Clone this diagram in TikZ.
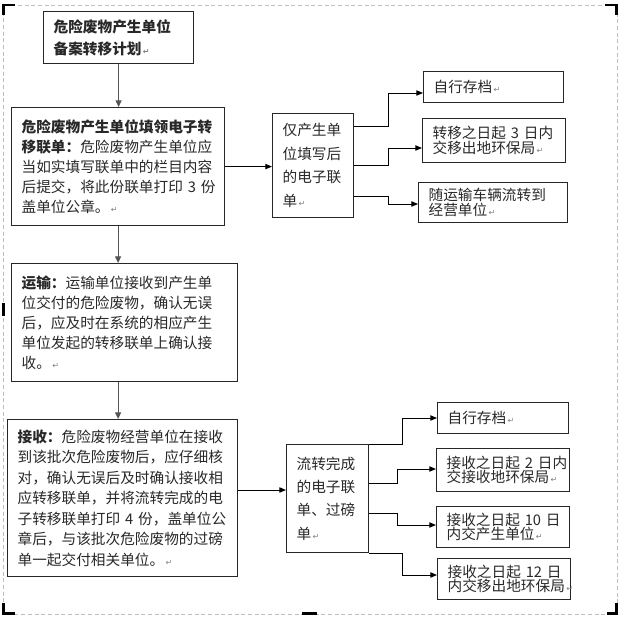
\documentclass[tikz,border=0pt]{standalone}
\usepackage{fontspec}
\setmainfont{Noto Sans CJK SC}
\newfontfamily\symfont{DejaVu Sans}
\usetikzlibrary{arrows.meta}
\definecolor{framegray}{RGB}{190,190,190}
\definecolor{linegray}{RGB}{85,85,85}
\definecolor{inkgray}{RGB}{40,40,40}
\newcommand{\retmark}{{\symfont\fontsize{6pt}{6pt}\selectfont\color{gray}\,↵}}

\begin{document}
\begin{tikzpicture}[
  x=0.75pt, y=-0.75pt,
  box/.style={rectangle, draw=black!85, line width=0.9pt, anchor=north west,
              align=left, inner xsep=7.5pt, inner ysep=0pt, text=inkgray,
              font=\fontsize{11pt}{15pt}\selectfont},
  sidebox/.style={box, font=\fontsize{11pt}{17.6pt}\selectfont},
  notebox/.style={box, font=\fontsize{11pt}{10.8pt}\selectfont},
  fwd/.style={-{Triangle[length=5pt,width=4.5pt]}, line width=0.9pt, linegray},
  branch/.style={-{Triangle[length=5pt,width=4pt]}, line width=0.7pt, black}
]
  \useasboundingbox (0,0) rectangle (623,617);

  % page frame
  \draw[framegray, dash pattern=on 3pt off 2pt, line width=0.6pt] (3.5,5) rectangle (617,614);
  \draw[black, line width=2.2pt] (3.5,15) -- (3.5,5) -- (15,5);
  \draw[black, line width=2.2pt] (605,5) -- (616.5,5) -- (616.5,15);
  \draw[black, line width=2.2pt] (616.5,603) -- (616.5,613.5) -- (607,613.5);
  \draw[black, line width=2.2pt] (3.5,603) -- (3.5,613.5) -- (15,613.5);
  \draw[black, line width=2.2pt] (3.5,303) -- (3.5,316);
  \draw[black, line width=2.2pt] (302,613.5) -- (317,613.5);

  % main column
  \node[box, text width=97.5pt, minimum height=39pt,
        font=\fontsize{11pt}{16.5pt}\selectfont\bfseries] (plan) at (43,11)
        {危险废物产生单位\\备案转移计划\retmark};
  \node[box, text width=144.75pt, minimum height=88.5pt] (fill) at (11,107)
        {\textbf{危险废物产生单位填领电子转}\\\textbf{移联单：}危险废物产生单位应\\当如实填写联单中的栏目内容\\后提交，将此份联单打印~3~份\\盖单位公章。\retmark};
  \node[box, text width=154.5pt, minimum height=88.5pt] (ship) at (11,263)
        {\textbf{运输：}运输单位接收到产生单\\位交付的危险废物，确认无误\\后，应及时在系统的相应产生\\单位发起的转移联单上确认接\\收。\retmark};
  \node[box, text width=157.5pt, minimum height=117.75pt,
        font=\fontsize{11pt}{15.4pt}\selectfont] (recv) at (7,419)
        {\textbf{接收：}危险废物经营单位在接收\\到该批次危险废物后，应仔细核\\对，确认无误后及时确认接收相\\应转移联单，并将流转完成的电\\子转移联单打印~4~份，盖单位公\\章后，与该批次危险废物的过磅\\单一起交付相关单位。\retmark};

  % upper branch
  \node[sidebox, text width=45.75pt, minimum height=78pt] (form) at (272,113)
        {仅产生单\\位填写后\\的电子联\\单\retmark};
  \node[notebox, text width=90pt, minimum height=23.25pt] (keepa) at (423,71)
        {自行存档\retmark};
  \node[notebox, text width=92.25pt, minimum height=33pt] (epbout) at (422,118)
        {转移之日起~3~日内\\交移出地环保局\retmark};
  \node[notebox, text width=96.75pt, minimum height=30pt] (truck) at (418,182)
        {随运输车辆流转到\\经营单位\retmark};

  % lower branch
  \node[sidebox, text width=46.5pt, minimum height=81pt] (done) at (286,444)
        {流转完成\\的电子联\\单、过磅\\单\retmark};
  \node[notebox, text width=83.25pt, minimum height=23.25pt] (keepb) at (437,402)
        {自行存档\retmark};
  \node[notebox, text width=84.75pt, minimum height=32.25pt] (epbin) at (436,448)
        {接收之日起~2~日内\\交接收地环保局\retmark};
  \node[notebox, text width=84.75pt, minimum height=30.75pt] (origin) at (436,506)
        {接收之日起~10~日\\内交产生单位\retmark};
  \node[notebox, text width=84.75pt, minimum height=30.75pt] (epbsrc) at (437,558)
        {接收之日起~12~日\\内交移出地环保局\retmark};

  % flow
  \draw[fwd] (plan.south) -- (plan.south |- fill.north);
  \draw[fwd] (fill.south) -- (fill.south |- ship.north);
  \draw[fwd] (fill.south |- ship.south) -- (fill.south |- recv.north);

  \draw[branch] (fill.east) -- (fill.east -| form.west);
  \draw[branch] (form.east |- 0,126) -- ++(34,0) |- (keepa.west |- 0,93);
  \draw[branch] (form.east |- 0,165) -- ++(34,0) |- (epbout.west |- 0,148);
  \draw[branch] (form.east |- 0,196) -- ++(34,0) |- (truck.west |- 0,204);

  \draw[branch] (recv.east |- 0,490) -- (done.west |- 0,490);
  \draw[branch] (done.north east) -- ++(33,0) |- (keepb.west |- 0,418);
  \draw[branch] (done.east |- 0,483) -- ++(28,0) |- (epbin.west |- 0,469);
  \draw[branch] (done.east |- 0,513) -- ++(28,0) |- (origin.west |- 0,525);
  \draw[branch] (done.south east) -- ++(33,0) |- (epbsrc.west |- 0,575);
\end{tikzpicture}
\end{document}
